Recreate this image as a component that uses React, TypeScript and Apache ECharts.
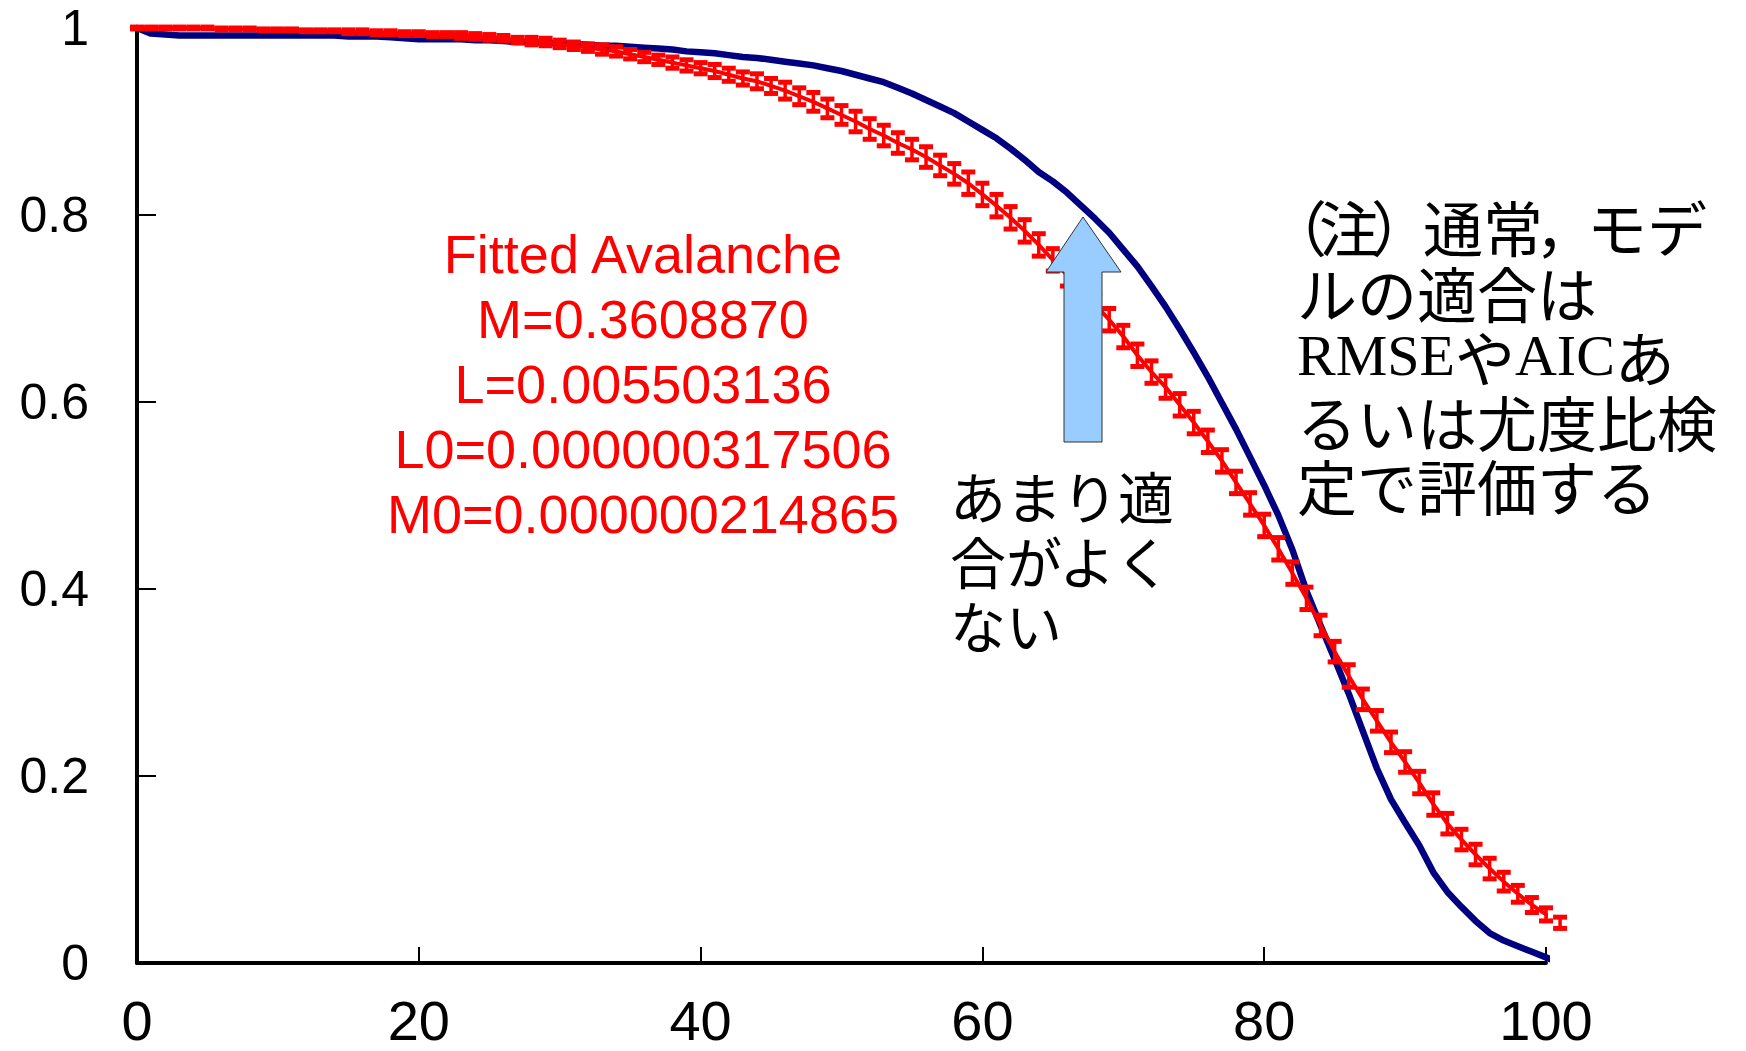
import React, { useEffect, useRef } from "react";
import * as echarts from "echarts";

// ---- data ----
const xPositions = [
  0, 1, 2, 3, 4, 5, 6, 7, 8, 9,
  10, 11, 12, 13, 14, 15, 16, 17, 18, 19,
  20, 21, 22, 23, 24, 25, 26, 27, 28, 29,
  30, 31, 32, 33, 34, 35, 36, 37, 38, 39,
  40, 41, 42, 43, 44, 45, 46, 47, 48, 49,
  50, 51, 52, 53, 54, 55, 56, 57, 58, 59,
  60, 61, 62, 63, 64, 65, 66, 67, 68, 69,
  70, 71, 72, 73, 74, 75, 76, 77, 78, 79,
  80, 81, 82, 83, 84, 85, 86, 87, 88, 89,
  90, 91, 92, 93, 94, 95, 96, 97, 98, 99,
  100, 101,
];

// red: fitted avalanche model (with error bars)
const fittedValues = [
  1.0, 1.0, 1.0, 1.0, 1.0, 1.0, 0.999, 0.999, 0.999, 0.998,
  0.998, 0.998, 0.997, 0.997, 0.997, 0.996, 0.996, 0.995, 0.995, 0.994,
  0.994, 0.993, 0.993, 0.992, 0.991, 0.99, 0.989, 0.987, 0.986, 0.985,
  0.983, 0.981, 0.979, 0.977, 0.975, 0.972, 0.969, 0.966, 0.963, 0.96,
  0.957, 0.954, 0.95, 0.946, 0.943, 0.938, 0.933, 0.927, 0.921, 0.914,
  0.907, 0.9, 0.892, 0.885, 0.877, 0.87, 0.862, 0.853, 0.844, 0.834,
  0.822, 0.81, 0.797, 0.783, 0.768, 0.752, 0.736, 0.72, 0.704, 0.688,
  0.67, 0.65, 0.632, 0.616, 0.597, 0.578, 0.558, 0.537, 0.514, 0.491,
  0.468, 0.443, 0.417, 0.39, 0.361, 0.333, 0.307, 0.282, 0.259, 0.236,
  0.215, 0.193, 0.17, 0.149, 0.132, 0.116, 0.101, 0.087, 0.074, 0.062,
  0.052, 0.043,
];

const fittedErrors = [
  0.001, 0.001, 0.001, 0.001, 0.001, 0.001, 0.001, 0.001, 0.001, 0.001,
  0.001, 0.001, 0.001, 0.001, 0.001, 0.002, 0.002, 0.002, 0.002, 0.002,
  0.002, 0.002, 0.002, 0.003, 0.003, 0.003, 0.003, 0.003, 0.004, 0.004,
  0.004, 0.004, 0.004, 0.005, 0.005, 0.005, 0.005, 0.005, 0.006, 0.006,
  0.006, 0.007, 0.007, 0.007, 0.008, 0.008, 0.009, 0.009, 0.01, 0.01,
  0.01, 0.011, 0.011, 0.011, 0.011, 0.011, 0.011, 0.011, 0.011, 0.012,
  0.012, 0.012, 0.012, 0.012, 0.012, 0.012, 0.012, 0.012, 0.012, 0.012,
  0.012, 0.012, 0.012, 0.012, 0.012, 0.012, 0.012, 0.012, 0.012, 0.012,
  0.012, 0.012, 0.012, 0.012, 0.011, 0.011, 0.012, 0.011, 0.011, 0.011,
  0.011, 0.012, 0.012, 0.011, 0.011, 0.011, 0.011, 0.01, 0.009, 0.008,
  0.007, 0.006,
];

// navy: observed curve
const observedValues = [
  1.0, 0.994, 0.993, 0.992, 0.992, 0.992, 0.992, 0.992, 0.992, 0.992,
  0.992, 0.992, 0.992, 0.992, 0.992, 0.991, 0.991, 0.991, 0.99, 0.989,
  0.988, 0.988, 0.988, 0.988, 0.987, 0.987, 0.986, 0.985, 0.985, 0.984,
  0.984, 0.983, 0.982, 0.981, 0.981, 0.98, 0.979, 0.978, 0.977, 0.975,
  0.974, 0.973, 0.971, 0.969, 0.968, 0.966, 0.964, 0.962, 0.96, 0.957,
  0.954, 0.95, 0.946, 0.942, 0.936, 0.93, 0.923, 0.916, 0.909, 0.9,
  0.891, 0.882, 0.871, 0.859, 0.846, 0.836, 0.824, 0.81, 0.796, 0.781,
  0.763, 0.745, 0.724, 0.702, 0.678, 0.653, 0.627, 0.599, 0.571, 0.541,
  0.511, 0.479, 0.442, 0.398, 0.361, 0.325, 0.288, 0.248, 0.208, 0.175,
  0.15, 0.126, 0.097, 0.076, 0.06, 0.045, 0.032, 0.024, 0.018, 0.012,
  0.006, 0.0,
];

const xTickValues = [0, 20, 40, 60, 80, 100];
const yTickValues = [0, 0.2, 0.4, 0.6, 0.8, 1];

const fitTitle = "Fitted Avalanche";
const fitParams = ["M=0.3608870", "L=0.005503136", "L0=0.000000317506", "M0=0.000000214865"];
const poorFitNote = ["あまり適", "合がよく", "ない"];
const noteFirstLine = "{lp|（}注{rp|）}通常{cm|，}モデ";
const noteOtherLines = ["ルの適合は", "{s|RMSE}や{s|AIC}あ", "るいは尤度比検", "定で評価する"];

const RED = "#ff0000";
const NAVY = "#000080";
const SANS = "Liberation Sans, Arial, sans-serif";
const CJK = "Noto Sans CJK JP, sans-serif";
const SERIF = "Liberation Serif, Times New Roman, serif";

function buildOption() {
  const fittedData = xPositions.map((x, i) => [x, fittedValues[i]]);
  const observedData = xPositions.map((x, i) => [x, observedValues[i]]);
  const errorData = xPositions.map((x, i) => [x, fittedValues[i], fittedErrors[i]]);

  const cjkRich = (size: number) => ({
    fontSize: size,
    fontFamily: CJK,
    lineHeight: 64.5,
  });

  return {
    animation: false,
    backgroundColor: "#ffffff",
    grid: { left: 137, top: 28, width: 1409, height: 935, containLabel: false },
    xAxis: {
      type: "value",
      min: xTickValues[0],
      max: xTickValues[xTickValues.length - 1],
      interval: xTickValues[1] - xTickValues[0],
      axisLine: { show: true, onZero: false, lineStyle: { color: "#000", width: 4 } },
      axisTick: { show: true, inside: true, length: 16, lineStyle: { color: "#000", width: 2 } },
      axisLabel: { color: "#000", fontSize: 56, lineHeight: 42, fontFamily: SANS, margin: 36 },
      splitLine: { show: false },
    },
    yAxis: {
      type: "value",
      min: yTickValues[0],
      max: yTickValues[yTickValues.length - 1],
      interval: 0.2,
      axisLine: { show: true, onZero: false, lineStyle: { color: "#000", width: 4 } },
      axisTick: { show: true, inside: true, length: 19, lineStyle: { color: "#000", width: 2 } },
      axisLabel: { color: "#000", fontSize: 50, fontFamily: SANS, margin: 48 },
      splitLine: { show: false },
    },
    series: [
      {
        name: "observed",
        type: "line",
        data: observedData,
        showSymbol: false,
        symbol: "none",
        clip: false,
        z: 2,
        lineStyle: { color: NAVY, width: 6.5, cap: "round", join: "round" },
        silent: true,
      },
      {
        name: "fitted",
        type: "line",
        data: fittedData,
        showSymbol: false,
        symbol: "none",
        clip: false,
        z: 3,
        lineStyle: { color: RED, width: 4 },
        silent: true,
      },
      {
        name: "fittedError",
        type: "custom",
        data: errorData,
        clip: false,
        z: 4,
        silent: true,
        encode: { x: 0, y: 1 },
        renderItem: (params: any, api: any) => {
          const x = api.value(0);
          const y = api.value(1);
          const e = api.value(2);
          const top = api.coord([x, y + e]);
          const bot = api.coord([x, y - e]);
          const hw = 7;
          return {
            type: "group",
            children: [
              {
                type: "line",
                shape: { x1: top[0], y1: top[1], x2: bot[0], y2: bot[1] },
                style: { stroke: RED, lineWidth: 3.5 },
              },
              {
                type: "line",
                shape: { x1: top[0] - hw, y1: top[1], x2: top[0] + hw, y2: top[1] },
                style: { stroke: RED, lineWidth: 5 },
              },
              {
                type: "line",
                shape: { x1: bot[0] - hw, y1: bot[1], x2: bot[0] + hw, y2: bot[1] },
                style: { stroke: RED, lineWidth: 5 },
              },
            ],
          };
        },
      },
    ],
    graphic: {
      elements: [
        {
          type: "polygon",
          z: 100,
          shape: {
            points: [
              [1083, 217],
              [1121, 272],
              [1102, 272],
              [1102, 442],
              [1064, 442],
              [1064, 272],
              [1046, 272],
            ],
          },
          style: { fill: "#99ccff", stroke: "#333333", lineWidth: 1 },
        },
        {
          type: "text",
          z: 100,
          x: 643,
          y: 384,
          style: {
            text: [fitTitle, ...fitParams].join("\n"),
            fill: RED,
            fontSize: 54,
            fontFamily: SANS,
            lineHeight: 65,
            textAlign: "center",
            align: "center",
            textVerticalAlign: "middle",
            verticalAlign: "middle",
          },
        },
        {
          type: "text",
          z: 100,
          x: 950,
          y: 559,
          style: {
            text: poorFitNote.join("\n"),
            fill: "#000",
            fontSize: 56,
            fontFamily: CJK,
            lineHeight: 64.5,
            textAlign: "left",
            align: "left",
            textVerticalAlign: "middle",
            verticalAlign: "middle",
          },
        },
        {
          type: "text",
          z: 100,
          x: 1275,
          y: 225,
          style: {
            text: noteFirstLine,
            fill: "#000",
            fontSize: 60,
            fontFamily: CJK,
            lineHeight: 64.5,
            textAlign: "left",
            align: "left",
            textVerticalAlign: "middle",
            verticalAlign: "middle",
            rich: {
              lp: { ...cjkRich(60), width: 44, align: "center", fill: "#000" },
              rp: { ...cjkRich(60), width: 44, align: "center", fill: "#000" },
              cm: { ...cjkRich(60), width: 44, align: "center", fill: "#000" },
            },
          },
        },
        {
          type: "text",
          z: 100,
          x: 1297,
          y: 388,
          style: {
            text: noteOtherLines.join("\n"),
            fill: "#000",
            fontSize: 60,
            fontFamily: CJK,
            lineHeight: 64.5,
            textAlign: "left",
            align: "left",
            textVerticalAlign: "middle",
            verticalAlign: "middle",
            rich: {
              s: { fontSize: 58, fontFamily: SERIF, lineHeight: 64.5, fill: "#000" },
            },
          },
        },
      ],
    },
  };
}

export default function App() {
  const ref = useRef<HTMLDivElement>(null);
  useEffect(() => {
    if (!ref.current) return;
    const chart = echarts.init(ref.current, null, { renderer: "svg" });
    chart.setOption(buildOption() as any);
    return () => {
      chart.dispose();
    };
  }, []);
  return (
    <div
      ref={ref}
      style={{ position: "absolute", left: 0, top: 0, width: 1746, height: 1051, background: "#fff" }}
    />
  );
}
